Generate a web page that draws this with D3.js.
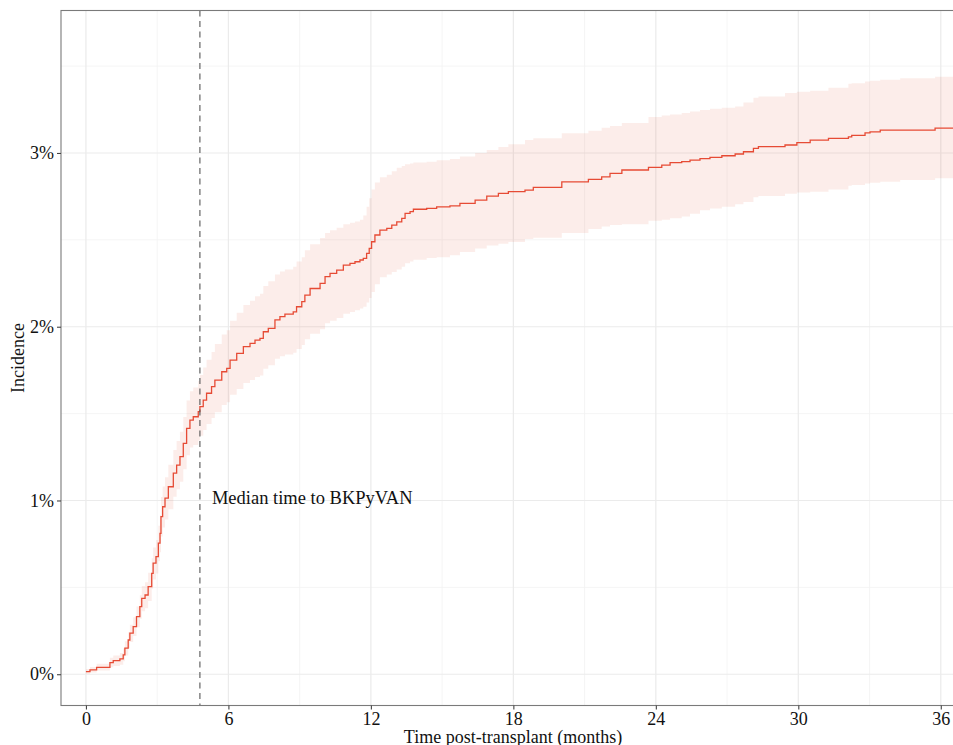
<!DOCTYPE html>
<html>
<head>
<meta charset="utf-8">
<script src="https://cdn.jsdelivr.net/npm/d3@7"></script>
<style>
    body {margin: 0; background: #fff}
    svg text {font-family: 'Liberation Serif', 'Times New Roman', serif; fill: #111}
</style>
</head>
<body>
<svg id="chart" width="953" height="745"></svg>
<script>
// months post-transplant, cumulative incidence (%) and its CI
const months = [0, 0.17, 0.45, 1.01, 1.15, 1.43, 1.57, 1.64, 1.78, 1.85, 1.99, 2.13, 2.27, 2.35, 2.49, 2.62, 2.77, 2.83, 2.95,
    3.05, 3.12, 3.16, 3.23, 3.33, 3.47, 3.68, 3.82, 3.96, 4.10, 4.24, 4.38, 4.52, 4.73, 4.80, 4.94, 5.08, 5.29, 5.43, 5.72, 5.93,
    6.07, 6.35, 6.63, 6.91, 7.12, 7.33, 7.47, 7.68, 7.96, 8.17, 8.38, 8.73, 8.87, 9.09, 9.22, 9.44, 9.86, 10.07, 10.28, 10.56,
    10.84, 11.12, 11.33, 11.54, 11.68, 11.82, 11.93, 12.03, 12.17, 12.38, 12.67, 12.88, 13.09, 13.30, 13.44, 13.65, 13.79,
    14.35, 14.77, 15.33, 15.75, 16.39, 16.88, 17.37, 17.79, 18.49, 18.84, 20.04, 21.16, 21.72, 22.07, 22.57, 23.69, 24.25,
    24.60, 25.09, 25.44, 25.86, 26.28, 26.78, 27.34, 27.69, 28.11, 28.32, 29.44, 29.94, 30.50, 31.27, 32.11, 32.25, 32.81,
    33.02, 33.45, 34.29, 35.76, 37.00]

const incidence = [0.015, 0.025, 0.040, 0.067, 0.078, 0.088, 0.111, 0.150, 0.197, 0.236, 0.274, 0.331, 0.389, 0.437, 0.456,
    0.504, 0.581, 0.639, 0.677, 0.754, 0.811, 0.907, 0.964, 1.013, 1.079, 1.157, 1.204, 1.252, 1.329, 1.415, 1.463, 1.482,
    1.511, 1.540, 1.578, 1.617, 1.655, 1.693, 1.741, 1.760, 1.808, 1.847, 1.885, 1.904, 1.923, 1.933, 1.971, 1.991, 2.039,
    2.058, 2.073, 2.086, 2.115, 2.144, 2.182, 2.220, 2.250, 2.288, 2.307, 2.326, 2.355, 2.365, 2.374, 2.384, 2.393, 2.422,
    2.451, 2.489, 2.528, 2.556, 2.566, 2.585, 2.604, 2.624, 2.652, 2.662, 2.676, 2.681, 2.690, 2.695, 2.710, 2.729, 2.752,
    2.767, 2.777, 2.786, 2.802, 2.834, 2.848, 2.863, 2.883, 2.902, 2.917, 2.930, 2.944, 2.950, 2.959, 2.967, 2.975, 2.984,
    2.994, 3.007, 3.026, 3.036, 3.046, 3.059, 3.074, 3.084, 3.093, 3.101, 3.116, 3.122, 3.132, 3.132, 3.143, 3.143]

const lower = [0.003, 0.010, 0.022, 0.040, 0.048, 0.055, 0.074, 0.108, 0.150, 0.185, 0.220, 0.270, 0.320, 0.362, 0.380,
    0.422, 0.492, 0.545, 0.580, 0.650, 0.702, 0.792, 0.845, 0.890, 0.950, 1.022, 1.065, 1.108, 1.180, 1.260, 1.305, 1.320,
    1.345, 1.372, 1.405, 1.440, 1.475, 1.508, 1.550, 1.565, 1.608, 1.642, 1.676, 1.693, 1.710, 1.720, 1.758, 1.778, 1.815,
    1.830, 1.840, 1.850, 1.872, 1.895, 1.928, 1.960, 1.985, 2.020, 2.035, 2.050, 2.075, 2.085, 2.095, 2.105, 2.115, 2.140,
    2.165, 2.200, 2.245, 2.285, 2.300, 2.315, 2.330, 2.345, 2.365, 2.375, 2.385, 2.395, 2.400, 2.412, 2.430, 2.450, 2.468,
    2.478, 2.488, 2.505, 2.512, 2.540, 2.562, 2.577, 2.585, 2.590, 2.610, 2.615, 2.625, 2.635, 2.650, 2.670, 2.680, 2.690,
    2.705, 2.718, 2.745, 2.752, 2.765, 2.772, 2.777, 2.790, 2.812, 2.815, 2.825, 2.829, 2.835, 2.844, 2.855, 2.863]

const upper = [0.030, 0.042, 0.060, 0.095, 0.108, 0.122, 0.148, 0.190, 0.242, 0.285, 0.328, 0.390, 0.455, 0.508, 0.530,
    0.584, 0.668, 0.730, 0.772, 0.855, 0.917, 1.020, 1.080, 1.133, 1.205, 1.290, 1.342, 1.395, 1.480, 1.575, 1.628, 1.650,
    1.688, 1.722, 1.765, 1.810, 1.855, 1.900, 1.955, 1.980, 2.035, 2.080, 2.125, 2.150, 2.175, 2.190, 2.235, 2.262, 2.300,
    2.318, 2.330, 2.345, 2.375, 2.400, 2.440, 2.475, 2.510, 2.540, 2.555, 2.570, 2.590, 2.598, 2.605, 2.615, 2.640, 2.690,
    2.740, 2.790, 2.830, 2.860, 2.875, 2.895, 2.915, 2.925, 2.935, 2.940, 2.945, 2.950, 2.958, 2.965, 2.980, 3.000, 3.017,
    3.035, 3.050, 3.074, 3.085, 3.113, 3.128, 3.145, 3.155, 3.172, 3.207, 3.215, 3.222, 3.230, 3.238, 3.247, 3.255, 3.260,
    3.268, 3.290, 3.318, 3.325, 3.345, 3.352, 3.358, 3.375, 3.398, 3.402, 3.412, 3.416, 3.422, 3.430, 3.438, 3.440]

const xTicks = [0, 6, 12, 18, 24, 30, 36]
const xMinor = [3, 9, 15, 21, 27, 33]
const yTicks = [0, 1, 2, 3]
const yMinor = [0.5, 1.5, 2.5, 3.5]
const medianMonths = 4.8
const medianLabel = 'Median time to BKPyVAN'

const red = '#E64B35'
const serif = "'Liberation Serif', 'Times New Roman', serif"

const panel = {left: 61, top: 10.5, right: 965, bottom: 705.5}

const x = d3.scaleLinear().domain([-1.05, 37.02]).range([panel.left, panel.right])
const y = d3.scaleLinear().domain([-0.18, 3.82]).range([panel.bottom, panel.top])

const rows = months.map((m, i) => ({m, est: incidence[i], lo: lower[i], hi: upper[i]}))

const svg = d3.select('#chart')

svg.append('defs')
    .append('clipPath')
    .attr('id', 'clip')
    .append('rect')
    .attr('x', panel.left)
    .attr('y', panel.top)
    .attr('width', panel.right - panel.left)
    .attr('height', panel.bottom - panel.top)

const grid = svg.append('g').attr('clip-path', 'url(#clip)')

const vLines = (vals, color, width) => grid.selectAll(null)
    .data(vals)
    .enter()
    .append('line')
    .attr('x1', d => x(d)).attr('x2', d => x(d))
    .attr('y1', panel.top).attr('y2', panel.bottom)
    .attr('stroke', color).attr('stroke-width', width)

const hLines = (vals, color, width) => grid.selectAll(null)
    .data(vals)
    .enter()
    .append('line')
    .attr('y1', d => y(d)).attr('y2', d => y(d))
    .attr('x1', panel.left).attr('x2', panel.right)
    .attr('stroke', color).attr('stroke-width', width)

vLines(xMinor, '#f3f3f3', 0.8)
hLines(yMinor, '#f3f3f3', 0.8)
vLines(xTicks, '#ebebeb', 1.2)
hLines(yTicks, '#ebebeb', 1.2)

const plot = svg.append('g').attr('clip-path', 'url(#clip)')

const band = d3.area()
    .curve(d3.curveStepAfter)
    .x(d => x(d.m))
    .y0(d => y(d.lo))
    .y1(d => y(d.hi))

plot.append('path')
    .datum(rows)
    .attr('d', band)
    .attr('fill', red)
    .attr('fill-opacity', 0.1)

const line = d3.line()
    .curve(d3.curveStepAfter)
    .x(d => x(d.m))
    .y(d => y(d.est))

plot.append('path')
    .datum(rows)
    .attr('d', line)
    .attr('fill', 'none')
    .attr('stroke', red)
    .attr('stroke-width', 1.3)

plot.append('line')
    .attr('x1', x(medianMonths)).attr('x2', x(medianMonths))
    .attr('y1', panel.top).attr('y2', panel.bottom)
    .attr('stroke', '#555')
    .attr('stroke-width', 1.1)
    .attr('stroke-dasharray', '6,4.5')

svg.append('text')
    .attr('x', x(medianMonths) + 12)
    .attr('y', y(0.98))
    .attr('font-size', 18.5)
    .text(medianLabel)

// panel border
svg.append('rect')
    .attr('x', panel.left)
    .attr('y', panel.top)
    .attr('width', panel.right - panel.left)
    .attr('height', panel.bottom - panel.top)
    .attr('fill', 'none')
    .attr('stroke', '#7a7a7a')
    .attr('stroke-width', 1.1)

const xAxis = svg.append('g')
    .attr('transform', `translate(0,${panel.bottom})`)
    .call(d3.axisBottom(x).tickValues(xTicks).tickSize(4).tickPadding(3))

const yAxis = svg.append('g')
    .attr('transform', `translate(${panel.left},0)`)
    .call(d3.axisLeft(y).tickValues(yTicks).tickSize(4).tickPadding(3).tickFormat(d => d + '%'))

;[xAxis, yAxis].forEach(a => {
    a.select('.domain').remove()
    a.selectAll('.tick line').attr('stroke', '#444').attr('stroke-width', 1.1)
    a.selectAll('.tick text')
        .attr('font-family', serif)
        .attr('font-size', 18)
        .attr('fill', '#111')
})

svg.append('text')
    .attr('x', (panel.left + panel.right) / 2)
    .attr('y', 743)
    .attr('text-anchor', 'middle')
    .attr('font-size', 18)
    .text('Time post-transplant (months)')

svg.append('text')
    .attr('transform', `translate(24,${(panel.top + panel.bottom) / 2}) rotate(-90)`)
    .attr('text-anchor', 'middle')
    .attr('font-size', 18)
    .text('Incidence')
</script>
</body>
</html>
